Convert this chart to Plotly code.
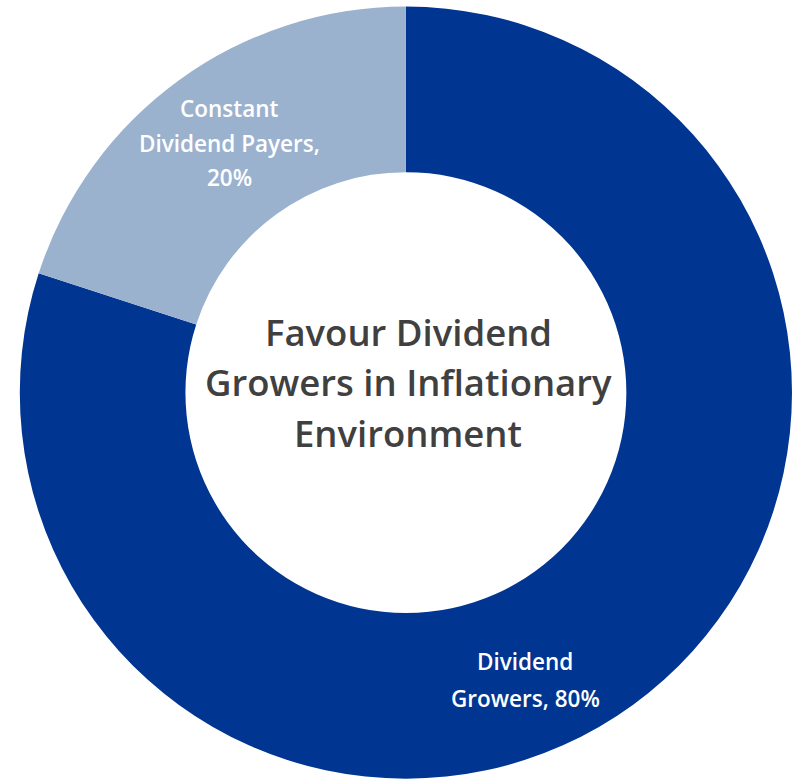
import plotly.graph_objects as go

# Share of dividend payers by behaviour
categories = ["Dividend Growers", "Constant Dividend Payers"]
shares = [80, 20]
colors = ["#003591", "#9bb2cf"]

title_lines = ["Favour Dividend", "Growers in Inflationary", "Environment"]

W, H = 792, 779

fig = go.Figure(
    go.Pie(
        labels=categories,
        values=shares,
        hole=0.571,
        sort=False,
        direction="clockwise",
        rotation=0,
        marker=dict(colors=colors, line=dict(width=0)),
        textinfo="none",
        hoverinfo="label+percent",
        domain=dict(x=[0.025, 1.0], y=[0.0, 0.992]),
        showlegend=False,
    )
)


def add_lines(lines, cx, cy_list, font):
    """Place each text line centred on (cx, cy) given in pixels from top-left."""
    for line, cy in zip(lines, cy_list):
        fig.add_annotation(
            x=cx / W, y=1 - cy / H, xref="paper", yref="paper",
            xanchor="center", yanchor="middle",
            text=line, showarrow=False, font=font,
        )


label_font = dict(family="Open Sans", size=22.5, color="white", weight=600)

# Slice labels, text built from the data
add_lines(["Dividend", f"Growers, {shares[0]}%"], 525, [661, 698], label_font)
add_lines(["Constant", "Dividend Payers,", f"{shares[1]}%"], 229, [108, 143, 178], label_font)

# Centre caption
add_lines(title_lines, 408, [332, 382, 433],
          dict(family="Open Sans", size=36.5, color="#404040", weight=600))

fig.update_layout(
    width=W, height=H,
    margin=dict(l=0, r=0, t=0, b=0),
    paper_bgcolor="white", plot_bgcolor="white",
)

fig.write_html("out.html")
